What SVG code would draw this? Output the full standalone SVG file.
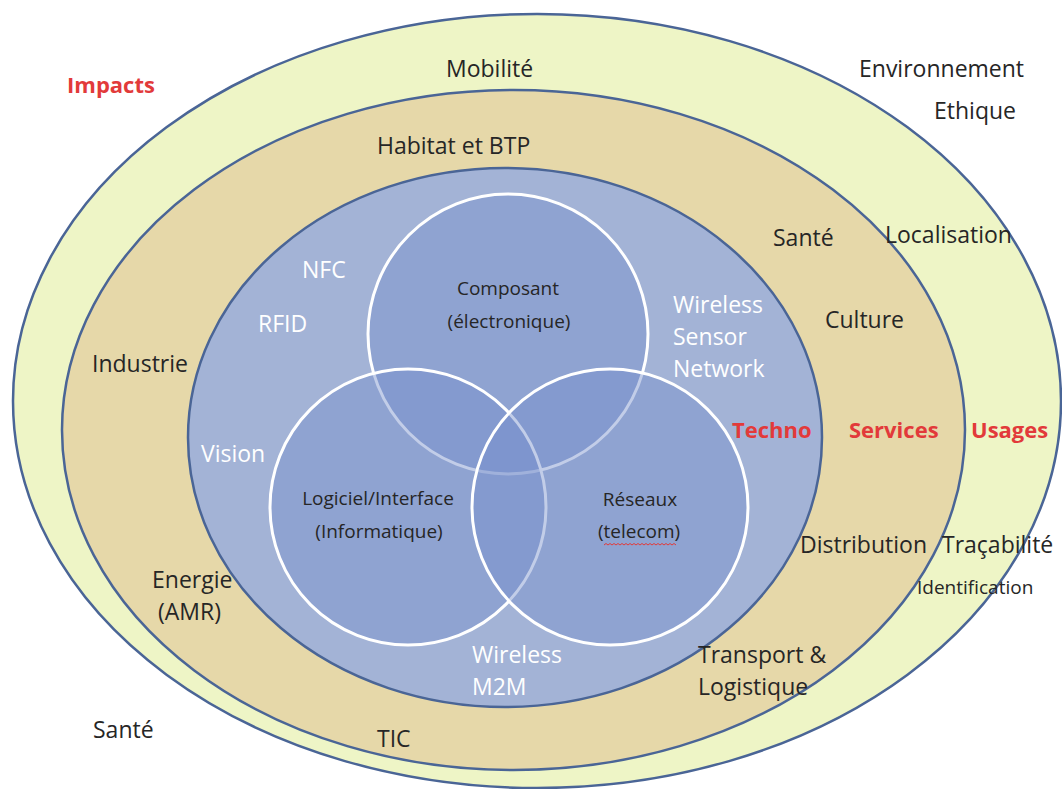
<svg xmlns="http://www.w3.org/2000/svg" width="1062" height="789" viewBox="0 0 1062 789">
<style>
.ring{stroke:#4a6596;stroke-width:2.5}
.circ{fill:#7891cc;fill-opacity:0.45;stroke:#ffffff;stroke-width:3}
text{font-family:"Open Sans","Liberation Sans",sans-serif}
.dk{fill:#262626;font-size:23px}
.wh{fill:#ffffff;font-size:23px}
.in{fill:#262626;font-size:19px;text-anchor:middle}
.rd{fill:#e23a3a;font-size:22px;font-weight:bold}
</style>
<rect width="1062" height="789" fill="#ffffff"/>
<g id="ring-usages">
<ellipse class="ring" cx="537" cy="401" rx="524" ry="387" fill="#eef5c6"/>
</g>
<g id="ring-services">
<ellipse class="ring" cx="513.5" cy="430" rx="451.5" ry="340" fill="#e6d8a9"/>
</g>
<g id="ring-techno">
<ellipse class="ring" cx="505" cy="437.5" rx="317" ry="269.5" fill="#a3b3d6"/>
</g>
<g id="circle-composant">
<circle class="circ" cx="508" cy="334" r="140"/>
</g>
<g id="circle-logiciel">
<circle class="circ" cx="408" cy="507" r="138"/>
</g>
<g id="circle-reseaux">
<circle class="circ" cx="610" cy="507" r="138"/>
</g>
<g id="connectors"></g>
<g id="labels">
<text class="rd" x="67" y="93">Impacts</text>
<text class="dk" x="446" y="77">Mobilité</text>
<text class="dk" x="859" y="77">Environnement</text>
<text class="dk" x="934" y="119">Ethique</text>
<text class="dk" x="377" y="154">Habitat et BTP</text>
<text class="dk" x="773" y="246">Santé</text>
<text class="dk" x="885" y="243">Localisation</text>
<text class="wh" x="302" y="278">NFC</text>
<text class="wh" x="258" y="332">RFID</text>
<text class="in" x="508" y="295">Composant</text>
<text class="in" x="509" y="328">(électronique)</text>
<text class="wh" x="673" y="313">Wireless</text>
<text class="wh" x="673" y="345">Sensor</text>
<text class="wh" x="673" y="377">Network</text>
<text class="dk" x="825" y="328">Culture</text>
<text class="dk" x="92" y="372">Industrie</text>
<text class="rd" x="732" y="438">Techno</text>
<text class="rd" x="849" y="438">Services</text>
<text class="rd" x="971" y="438">Usages</text>
<text class="wh" x="201" y="462">Vision</text>
<text class="in" x="378" y="505">Logiciel/Interface</text>
<text class="in" x="379" y="538">(Informatique)</text>
<text class="in" x="640" y="506">Réseaux</text>
<text class="in" x="639" y="538">(telecom)</text>
<path d="M604 545 l2 -1.5 l2 1.5 l2 -1.5 l2 1.5 l2 -1.5 l2 1.5 l2 -1.5 l2 1.5 l2 -1.5 l2 1.5 l2 -1.5 l2 1.5 l2 -1.5 l2 1.5 l2 -1.5 l2 1.5 l2 -1.5 l2 1.5 l2 -1.5 l2 1.5 l2 -1.5 l2 1.5 l2 -1.5 l2 1.5 l2 -1.5 l2 1.5 l2 -1.5 l2 1.5 l2 -1.5 l2 1.5 l2 -1.5 l2 1.5 l2 -1.5 l2 1.5 l2 -1.5 l2 1.5" fill="none" stroke="#e23a3a" stroke-width="1"/>
<text class="dk" x="800" y="553">Distribution</text>
<text class="dk" x="942" y="553">Traçabilité</text>
<text class="dk" x="917" y="594" style="font-size:19px">Identification</text>
<text class="dk" x="152" y="588">Energie</text>
<text class="dk" x="158" y="620">(AMR)</text>
<text class="wh" x="472" y="663">Wireless</text>
<text class="wh" x="472" y="695">M2M</text>
<text class="dk" x="698" y="663">Transport &amp;</text>
<text class="dk" x="698" y="695">Logistique</text>
<text class="dk" x="93" y="738">Santé</text>
<text class="dk" x="377" y="747">TIC</text>
</g>
</svg>
